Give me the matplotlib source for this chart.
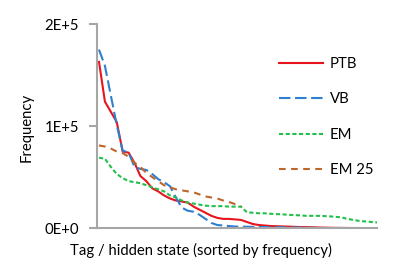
import numpy as np
import matplotlib
matplotlib.use("Agg")
import matplotlib.pyplot as plt

plt.rcParams['font.family'] = ['Lato', 'DejaVu Sans']

# frequency of each tag / hidden state, sorted descending (in thousands)
ptb = [163, 124, 114, 104, 75, 74, 64, 51, 46, 39, 36, 32, 29, 27, 26, 25, 21, 18, 15, 12,
       10, 9, 9, 8.5, 8, 6, 4, 3, 2.5, 2, 1.8, 1.6, 1.4, 1.2, 1.0, 0.9, 0.8, 0.6, 0.4, 0.3,
       0.2, 0.15, 0.1, 0.05, 0.02]
vb = [175, 159, 130, 101, 76, 74, 60, 58, 57, 53, 48, 45, 41, 30, 20, 17, 16, 13, 9, 5,
      3, 2.5, 2, 1.5, 1.4, 1.3, 1.2, 1.1, 1.0, 0.9, 0.8, 0.7, 0.6, 0.5, 0.4, 0.3, 0.2, 0.15,
      0.1, 0.05]
em = [69, 68, 60, 53, 49, 46, 45, 44, 42, 40, 38, 36, 32, 30, 27, 25, 24, 23, 22, 21.5,
      21.5, 21.5, 21, 21, 21, 15.5, 15, 14.5, 14.5, 14, 13.7, 13.5, 13, 12.7, 12.5, 12, 12,
      12, 11.8, 11.5, 11, 10.5, 9, 8, 7, 6.5, 6, 5.5]
em25 = [81, 80, 78, 75, 73.5, 70, 64, 60, 54, 50, 46, 42, 40, 38, 37, 36, 35, 33, 31, 30,
        29, 27, 25.5, 23.5, 21.5]

series = [
    ("PTB", ptb, "#E8141B", "-", None),
    ("VB", vb, "#2F7FD0", "--", (5.5, 2.2)),
    ("EM", em, "#22C04A", "--", (2.0, 1.2)),
    ("EM 25", em25, "#C0652A", "--", (3.2, 2.6)),
]

fs = 10.7

fig = plt.figure(figsize=(4, 2.68), dpi=100)
ax = fig.add_axes([0.2425, 0.149, 0.70, 0.761])

for name, vals, col, ls, dash in series:
    y = np.array(vals) * 1000
    x = np.arange(1, len(y) + 1)
    line, = ax.plot(x, y, color=col, lw=1.5, ls=ls, label=name)
    if dash is not None:
        line.set_dashes(dash)

ax.set_xlim(0.66, 48)
ax.set_ylim(0, 200000)
ax.set_yticks([0, 100000, 200000])
ax.set_yticklabels(["0E+0", "1E+5", "2E+5"])
ax.set_xticks([])

for s in ["top", "right"]:
    ax.spines[s].set_visible(False)
for s in ["left", "bottom"]:
    ax.spines[s].set_color("#A6A6A6")
    ax.spines[s].set_linewidth(1.5)
ax.tick_params(axis="y", length=6, width=1.5, color="#A6A6A6", labelsize=fs, pad=7)

ax.set_ylabel("Frequency", fontsize=fs)
ax.yaxis.set_label_coords(-0.225, 0.495)
ax.set_xlabel("Tag / hidden state (sorted by frequency)", fontsize=fs)
ax.xaxis.set_label_coords(0.371, -0.075)

ax.legend(loc="upper left", bbox_to_anchor=(0.65, 0.84), frameon=False, fontsize=fs,
          handlelength=2.95, handletextpad=0.47, labelspacing=1.45, borderpad=0, borderaxespad=0)

fig.savefig("out.png", dpi=100)
